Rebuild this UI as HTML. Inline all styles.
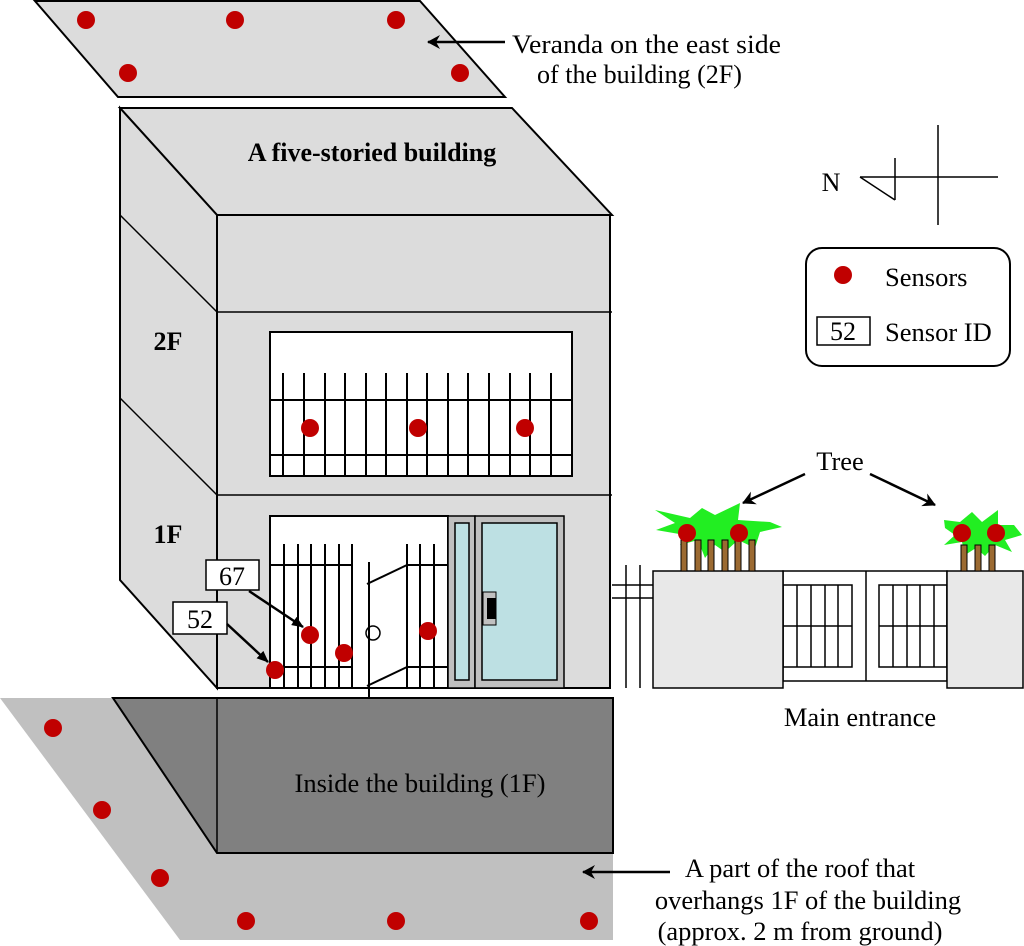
<!DOCTYPE html>
<html><head><meta charset="utf-8"><style>
html,body{margin:0;padding:0;background:#fff}
svg{display:block}
text{font-family:"Liberation Serif",serif;fill:#000}
</style></head><body>
<svg width="1024" height="946" viewBox="0 0 1024 946" xmlns="http://www.w3.org/2000/svg">
<defs>
<marker id="ah" markerWidth="14" markerHeight="14" refX="12" refY="7" orient="auto" markerUnits="userSpaceOnUse">
<path d="M0,0 L13,7 L0,14 L4,7 Z" fill="#000"/>
</marker>
<marker id="af" markerWidth="12" markerHeight="10" refX="11" refY="5" orient="auto" markerUnits="userSpaceOnUse">
<path d="M0,0 L12,5 L0,10 Z" fill="#000"/>
</marker>
</defs>

<!-- Veranda -->
<polygon points="35,1 420,1 505,97 118,97" fill="#dcdcdc" stroke="#000" stroke-width="2"/>
<g fill="#c00000">
<circle cx="86" cy="20" r="9"/><circle cx="235" cy="20" r="9"/><circle cx="396" cy="20" r="9"/>
<circle cx="128" cy="73" r="9"/><circle cx="460" cy="73" r="9"/>
</g>
<line x1="505" y1="42" x2="428" y2="42" stroke="#000" stroke-width="2.5" marker-end="url(#ah)"/>
<text x="512" y="53" font-size="26.5" textLength="269" lengthAdjust="spacingAndGlyphs">Veranda on the east side</text>
<text x="537" y="83" font-size="26.5" textLength="205" lengthAdjust="spacingAndGlyphs">of the building (2F)</text>

<!-- Building -->
<polygon points="120,108 512,108 612,215 217,215" fill="#dcdcdc" stroke="#000" stroke-width="2"/>
<polygon points="120,108 217,215 217,688 120,580" fill="#dcdcdc" stroke="#000" stroke-width="2"/>
<rect x="217" y="215" width="393" height="473" fill="#dcdcdc" stroke="#000" stroke-width="2"/>
<line x1="217" y1="312" x2="612" y2="312" stroke="#000" stroke-width="1.5"/>
<line x1="217" y1="495" x2="612" y2="495" stroke="#000" stroke-width="1.5"/>
<line x1="120" y1="215" x2="217" y2="312" stroke="#000" stroke-width="1.5"/>
<line x1="120" y1="398" x2="217" y2="495" stroke="#000" stroke-width="1.5"/>
<text x="372" y="161" font-size="26" font-weight="bold" text-anchor="middle">A five-storied building</text>
<text x="168" y="350" font-size="26" font-weight="bold" text-anchor="middle">2F</text>
<text x="168" y="543" font-size="26" font-weight="bold" text-anchor="middle">1F</text>

<!-- 2F balcony -->
<rect x="270" y="332" width="302" height="144" fill="#fff" stroke="#000" stroke-width="2"/>
<g stroke="#000" stroke-width="2">
<line x1="270" y1="400" x2="572" y2="400"/><line x1="270" y1="455" x2="572" y2="455"/>
<line x1="283" y1="373" x2="283" y2="476"/><line x1="304" y1="373" x2="304" y2="476"/>
<line x1="325" y1="373" x2="325" y2="476"/><line x1="345" y1="373" x2="345" y2="476"/>
<line x1="366" y1="373" x2="366" y2="476"/><line x1="386" y1="373" x2="386" y2="476"/>
<line x1="407" y1="373" x2="407" y2="476"/><line x1="427" y1="373" x2="427" y2="476"/>
<line x1="448" y1="373" x2="448" y2="476"/><line x1="468" y1="373" x2="468" y2="476"/>
<line x1="489" y1="373" x2="489" y2="476"/><line x1="510" y1="373" x2="510" y2="476"/>
<line x1="530" y1="373" x2="530" y2="476"/><line x1="551" y1="373" x2="551" y2="476"/>
</g>
<g fill="#c00000"><circle cx="310" cy="428" r="9"/><circle cx="418" cy="428" r="9"/><circle cx="525" cy="428" r="9"/></g>

<!-- 1F entrance -->
<rect x="270" y="516" width="178" height="172" fill="#fff" stroke="#000" stroke-width="2"/>
<g stroke="#000" stroke-width="2">
<line x1="270" y1="565" x2="352" y2="565"/><line x1="270" y1="667" x2="352" y2="667"/>
<line x1="284" y1="544" x2="284" y2="688"/><line x1="298" y1="544" x2="298" y2="688"/>
<line x1="311" y1="544" x2="311" y2="688"/><line x1="325" y1="544" x2="325" y2="688"/>
<line x1="339" y1="544" x2="339" y2="688"/><line x1="352" y1="544" x2="352" y2="688"/>
<line x1="407" y1="544" x2="407" y2="688"/><line x1="420" y1="544" x2="420" y2="688"/>
<line x1="434" y1="544" x2="434" y2="688"/>
<line x1="407" y1="565" x2="448" y2="565"/><line x1="407" y1="667" x2="448" y2="667"/>
<line x1="369" y1="562" x2="369" y2="698"/>
<line x1="367" y1="584" x2="407" y2="565"/><line x1="367" y1="686" x2="407" y2="667"/>
</g>
<circle cx="373" cy="633" r="7" fill="none" stroke="#000" stroke-width="1.5"/>
<rect x="448" y="516" width="27" height="172" fill="#c0c0c0" stroke="#000" stroke-width="1.5"/>
<rect x="475" y="516" width="89" height="172" fill="#c0c0c0" stroke="#000" stroke-width="1.5"/>
<rect x="455" y="523" width="14" height="157" fill="#bde0e3" stroke="#000" stroke-width="1.5"/>
<rect x="482" y="523" width="75" height="157" fill="#bde0e3" stroke="#000" stroke-width="1.5"/>
<rect x="483" y="592" width="13" height="33" fill="#c0c0c0" stroke="#000" stroke-width="1"/>
<rect x="487" y="598" width="9" height="21" fill="#000"/>
<g fill="#c00000"><circle cx="310" cy="635" r="9"/><circle cx="344" cy="653" r="9"/><circle cx="428" cy="631" r="9"/><circle cx="275" cy="670" r="9"/></g>
<rect x="206" y="560" width="53" height="30" fill="#fff" stroke="#000" stroke-width="1.5"/>
<text x="232" y="585" font-size="26" text-anchor="middle">67</text>
<rect x="173" y="602" width="54" height="32" fill="#fff" stroke="#000" stroke-width="1.5"/>
<text x="200" y="628" font-size="26" text-anchor="middle">52</text>
<line x1="249" y1="591" x2="303" y2="627" stroke="#000" stroke-width="2.5" marker-end="url(#af)"/>
<line x1="227" y1="624" x2="268" y2="662" stroke="#000" stroke-width="2.5" marker-end="url(#af)"/>

<!-- Lower roof -->
<polygon points="0,698 613,698 613,940 180,940" fill="#c0c0c0"/>
<polygon points="113,698 613,698 613,853 217,853" fill="#808080" stroke="#000" stroke-width="2"/>
<line x1="217" y1="698" x2="217" y2="853" stroke="#000" stroke-width="1.5"/>
<text x="420" y="792" font-size="26.5" text-anchor="middle" textLength="251" lengthAdjust="spacingAndGlyphs">Inside the building (1F)</text>
<g fill="#c00000">
<circle cx="53" cy="728" r="9"/><circle cx="102" cy="810" r="9"/><circle cx="160" cy="878" r="9"/>
<circle cx="246" cy="921" r="9"/><circle cx="396" cy="921" r="9"/><circle cx="589" cy="921" r="9"/>
</g>
<line x1="670" y1="872" x2="583" y2="872" stroke="#000" stroke-width="2.5" marker-end="url(#ah)"/>
<text x="800" y="877" font-size="26.5" text-anchor="middle">A part of the roof that</text>
<text x="808" y="909" font-size="26.5" text-anchor="middle">overhangs 1F of the building</text>
<text x="800" y="940" font-size="26.5" text-anchor="middle">(approx. 2 m from ground)</text>

<!-- Fence / main entrance -->
<g stroke="#000" stroke-width="1.5">
<line x1="626" y1="565" x2="626" y2="688"/><line x1="640" y1="565" x2="640" y2="688"/>
<line x1="612" y1="585" x2="653" y2="585"/><line x1="612" y1="598" x2="653" y2="598"/>
</g>
<rect x="783" y="571" width="164" height="110" fill="#fff" stroke="#000" stroke-width="1.5"/>
<line x1="866" y1="571" x2="866" y2="681" stroke="#000" stroke-width="1.5"/>
<g stroke="#000" stroke-width="1.5" fill="none">
<rect x="783" y="585" width="69" height="82"/>
<line x1="783" y1="626" x2="852" y2="626"/>
<line x1="797" y1="585" x2="797" y2="667"/><line x1="811" y1="585" x2="811" y2="667"/>
<line x1="825" y1="585" x2="825" y2="667"/><line x1="838" y1="585" x2="838" y2="667"/>
<rect x="879" y="585" width="68" height="82"/>
<line x1="879" y1="626" x2="947" y2="626"/>
<line x1="893" y1="585" x2="893" y2="667"/><line x1="907" y1="585" x2="907" y2="667"/>
<line x1="920" y1="585" x2="920" y2="667"/><line x1="934" y1="585" x2="934" y2="667"/>
</g>
<rect x="653" y="571" width="130" height="117" fill="#e8e8e8" stroke="#000" stroke-width="1.5"/>
<rect x="947" y="571" width="76" height="117" fill="#e8e8e8" stroke="#000" stroke-width="1.5"/>

<!-- Trees -->
<polygon points="655,510 690,518 702,508 715,515 740,503 738,520 770,522 782,527 760,532 755,548 738,540 725,552 715,545 705,558 698,540 680,545 685,535 656,530 675,523" fill="#22ee22"/>
<polygon points="944,520 960,522 972,512 982,522 998,510 998,525 1014,525 1022,535 1005,540 1012,552 995,545 985,556 976,548 965,555 962,542 944,545 955,535 945,528" fill="#22ee22"/>
<g fill="#9b6a32" stroke="#000" stroke-width="1">
<rect x="681" y="540" width="6" height="31"/><rect x="695" y="540" width="6" height="31"/>
<rect x="708" y="540" width="6" height="31"/><rect x="722" y="540" width="6" height="31"/>
<rect x="735" y="540" width="6" height="31"/><rect x="749" y="540" width="6" height="31"/>
<rect x="961" y="545" width="6" height="26"/><rect x="975" y="545" width="6" height="26"/>
<rect x="989" y="545" width="6" height="26"/>
</g>
<g fill="#c00000"><circle cx="687" cy="533" r="9"/><circle cx="739" cy="533" r="9"/><circle cx="962" cy="533" r="9"/><circle cx="996" cy="533" r="9"/></g>
<text x="840" y="470" font-size="26.5" text-anchor="middle">Tree</text>
<line x1="805" y1="474" x2="743" y2="503" stroke="#000" stroke-width="2.5" marker-end="url(#ah)"/>
<line x1="870" y1="474" x2="935" y2="505" stroke="#000" stroke-width="2.5" marker-end="url(#ah)"/>
<text x="860" y="726" font-size="26.5" text-anchor="middle">Main entrance</text>

<!-- Compass -->
<g stroke="#000" stroke-width="1.5" fill="none">
<line x1="938" y1="125" x2="938" y2="225"/>
<line x1="860" y1="177" x2="998" y2="177"/>
<line x1="860" y1="177" x2="895" y2="200"/>
<line x1="895" y1="158" x2="895" y2="200"/>
</g>
<text x="831" y="191" font-size="26" text-anchor="middle">N</text>

<!-- Legend -->
<rect x="806" y="248" width="204" height="118" rx="16" fill="#fff" stroke="#000" stroke-width="2"/>
<circle cx="843" cy="275" r="9" fill="#c00000"/>
<text x="885" y="286" font-size="26.5">Sensors</text>
<rect x="817" y="317" width="53" height="28" fill="#fff" stroke="#000" stroke-width="1.5"/>
<text x="843" y="340" font-size="26" text-anchor="middle">52</text>
<text x="885" y="341" font-size="26.5">Sensor ID</text>
</svg>
</body></html>
